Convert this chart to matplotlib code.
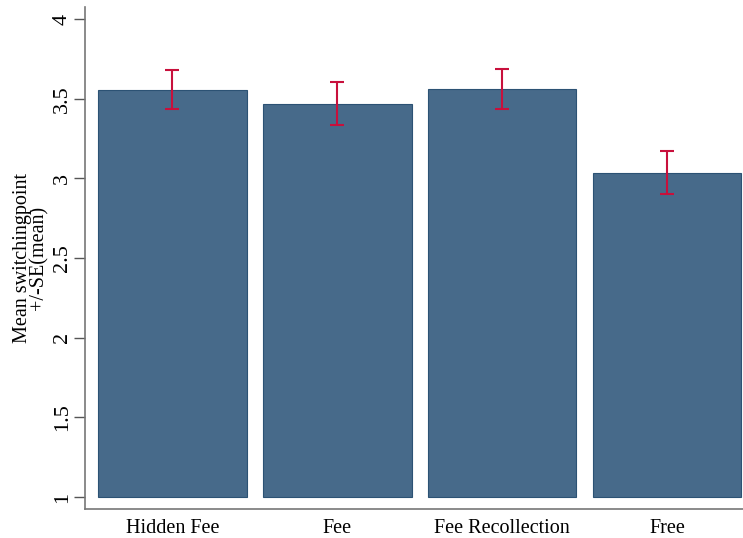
import matplotlib.pyplot as plt
import numpy as np

plt.rcParams['font.family'] = ['Liberation Serif', 'DejaVu Serif']

groups = ["Hidden Fee", "Fee", "Fee Recollection", "Free"]
means = [3.557, 3.467, 3.561, 3.034]
se = [0.125, 0.135, 0.126, 0.135]

x = np.arange(len(groups))

fig = plt.figure(figsize=(7.43, 5.38), dpi=100)
ax = fig.add_axes([85 / 743, 1 - 509 / 538, (743 - 85) / 743, (509 - 7) / 538])

base = 1
ax.bar(x, np.array(means) - base, 0.9, bottom=base, color='#476a8a',
       edgecolor='#2c5274', linewidth=0.8)
ax.errorbar(x, means, yerr=se, fmt='none', ecolor='#c8103c', elinewidth=1.5,
            capsize=5, capthick=1.5)

ax.set_xlim(-0.53, 3.46)
ax.set_ylim(0.925, 4.075)
ax.set_yticks([1, 1.5, 2, 2.5, 3, 3.5, 4])
ax.set_yticklabels(['1', '1.5', '2', '2.5', '3', '3.5', '4'], rotation=90, va='center')
ax.set_xticks(x)
ax.set_xticklabels(groups)
ax.tick_params(axis='x', length=0, labelsize=14.5, pad=7)
ax.tick_params(axis='y', length=8, width=1, color='#555555', labelsize=16, pad=1.5)

for s in ['top', 'right']:
    ax.spines[s].set_visible(False)
for s in ['left', 'bottom']:
    ax.spines[s].set_color('#777777')
    ax.spines[s].set_linewidth(1.2)

ax.set_ylabel("Mean switchingpoint\n+/-SE(mean)", fontsize=14.5, linespacing=0.8, labelpad=3)

fig.savefig('out.png', dpi=100)
